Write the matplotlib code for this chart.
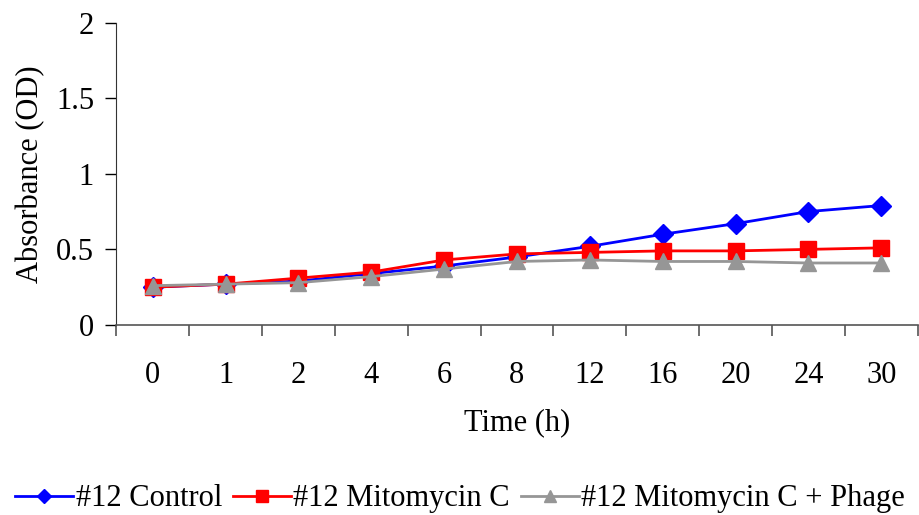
import matplotlib
matplotlib.use("Agg")
import matplotlib.pyplot as plt

plt.rcParams['font.family'] = ['Liberation Serif', 'DejaVu Serif']

# time points (categorical axis, like the original spreadsheet chart)
times = ["0", "1", "2", "4", "6", "8", "12", "16", "20", "24", "30"]

control = [0.25, 0.27, 0.29, 0.34, 0.39, 0.45, 0.52, 0.60, 0.67, 0.75, 0.79]
mitomycin = [0.25, 0.27, 0.31, 0.35, 0.43, 0.47, 0.48, 0.49, 0.49, 0.50, 0.51]
mito_phage = [0.26, 0.27, 0.28, 0.32, 0.37, 0.42, 0.43, 0.42, 0.42, 0.41, 0.41]

fs = 22

fig = plt.figure(figsize=(9.2, 5.15), dpi=100)
ax = fig.add_axes([116.3 / 920, 1 - 325 / 515, 801.4 / 920, 302.5 / 515])

x = list(range(len(times)))
ax.plot(x, control, color='#0000ff', lw=2, marker='D', markersize=10,
        label='#12 Control', zorder=3)
ax.plot(x, mitomycin, color='#ff0000', lw=2, marker='s', markersize=12,
        label='#12 Mitomycin C', zorder=4)
ax.plot(x, mito_phage, color='#969696', lw=2, marker='^', markersize=12,
        label='#12 Mitomycin C + Phage', zorder=5)

ax.set_xlim(-0.5, len(times) - 0.5)
ax.set_ylim(0, 2)
ax.set_yticks([0, 0.5, 1, 1.5, 2])
ax.set_yticklabels(["0", "0.5", "1", "1.5", "2"])

# category ticks sit between labels
ax.set_xticks([i - 0.5 for i in range(len(times) + 1)])
ax.set_xticklabels([])
ax.set_xticks(x, minor=True)
ax.set_xticklabels(times, minor=True)
ax.tick_params(axis='x', which='major', direction='out', length=8, width=1.2, color='#555555')
ax.tick_params(axis='x', which='minor', length=0, pad=26, labelsize=fs)
ax.tick_params(axis='y', direction='out', length=8, width=1, pad=8, labelsize=fs)

for side in ['top', 'right']:
    ax.spines[side].set_visible(False)
ax.spines['left'].set_color('#333333')
ax.spines['bottom'].set_color('#555555')
ax.spines['bottom'].set_linewidth(1.2)

ax.set_xlabel("Time (h)", fontsize=fs, labelpad=13)
ax.set_ylabel("Absorbance (OD)", fontsize=fs, labelpad=8)

fig.legend(loc='lower center', bbox_to_anchor=(0.5, -0.05), ncol=3, frameon=False,
           fontsize=fs, handlelength=1.9, handletextpad=0.08, columnspacing=0.35,
           markerscale=0.75)

fig.savefig("out.png", dpi=100)
